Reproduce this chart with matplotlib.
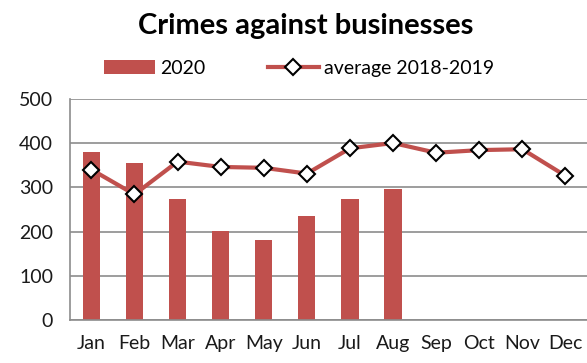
import matplotlib.pyplot as plt
import numpy as np

months = ["Jan", "Feb", "Mar", "Apr", "May", "Jun",
          "Jul", "Aug", "Sep", "Oct", "Nov", "Dec"]
crimes_2020 = [379, 356, 274, 201, 181, 236, 274, 297]
avg_2018_2019 = [340, 284, 358, 346, 344, 331, 388, 400, 378, 384, 386, 326]
y_ticks = [0, 100, 200, 300, 400, 500]

red = "#C0504D"
grid = "#8C8C8C"

plt.rcParams['font.family'] = ['Lato', 'DejaVu Sans']

fig = plt.figure(figsize=(5.87, 3.63), dpi=100)
ax = fig.add_axes([0.119, 0.118, 0.881, 0.61])

x = np.arange(len(months))
bars = ax.bar(x[:len(crimes_2020)], crimes_2020, width=0.4, color=red,
              label="2020", zorder=2)
line, = ax.plot(x, avg_2018_2019, color=red, lw=3, marker="D", ms=8,
                mfc="white", mec="black", mew=1.5, label="average 2018-2019",
                zorder=3)

ax.set_xlim(-0.5, 11.5)
ax.set_ylim(0, 500)
ax.set_yticks(y_ticks)
ax.set_xticks(x)
ax.set_xticklabels(months)
ax.yaxis.grid(True, color=grid, lw=1.2, zorder=0)
ax.set_axisbelow(True)
for s in ["top", "right"]:
    ax.spines[s].set_visible(False)
for s in ["left", "bottom"]:
    ax.spines[s].set_color(grid)
    ax.spines[s].set_linewidth(1.2)
ax.tick_params(axis="both", length=0, labelsize=14, colors="#1a1a1a")
ax.tick_params(axis="y", pad=12)
ax.tick_params(axis="x", pad=11)

fig.suptitle("Crimes against businesses", x=0.52, y=0.965,
             fontsize=21, fontweight="bold")
fig.legend(handles=[bars, line], loc="center", bbox_to_anchor=(0.51, 0.812),
           ncol=2, frameon=False, fontsize=14, handlelength=2.6,
           columnspacing=3.2, handletextpad=0.3)

fig.savefig("out.png", dpi=100)
